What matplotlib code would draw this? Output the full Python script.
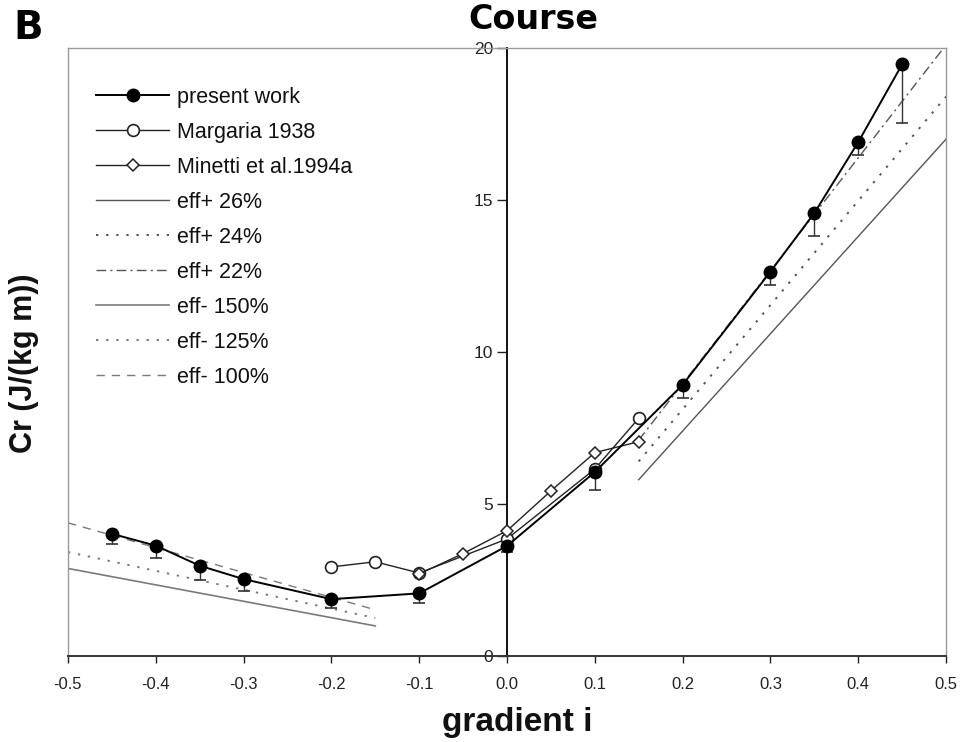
import numpy as np
import matplotlib
matplotlib.use('Agg')
import matplotlib.pyplot as plt

plt.rcParams['font.family'] = ['Liberation Sans', 'DejaVu Sans']
plt.rcParams['axes.unicode_minus'] = False

# ---- data ----
present_x = [-0.45, -0.40, -0.35, -0.30, -0.20, -0.10, 0.00, 0.10, 0.20, 0.30, 0.35, 0.40, 0.45]
present_y = [4.02, 3.63, 2.97, 2.53, 1.87, 2.06, 3.62, 6.05, 8.92, 12.64, 14.57, 16.90, 19.46]
present_err = [0.32, 0.40, 0.47, 0.38, 0.30, 0.33, 0.20, 0.60, 0.43, 0.44, 0.77, 0.42, 1.94]

margaria_x = [-0.20, -0.15, -0.10, 0.00, 0.10, 0.15]
margaria_y = [2.93, 3.10, 2.73, 3.85, 6.15, 7.82]

minetti_x = [-0.10, -0.05, 0.00, 0.05, 0.10, 0.15]
minetti_y = [2.70, 3.37, 4.12, 5.43, 6.69, 7.05]

uphill_x = [0.15, 0.50]
eff_p26 = [5.80, 17.00]
eff_p24 = [6.40, 18.40]
eff_p22 = [7.10, 20.10]

downhill_x = [-0.50, -0.15]
eff_m150 = [2.88, 0.99]
eff_m125 = [3.42, 1.25]
eff_m100 = [4.38, 1.52]

xticks = [-0.5, -0.4, -0.3, -0.2, -0.1, 0.0, 0.1, 0.2, 0.3, 0.4, 0.5]
yticks = [0, 5, 10, 15, 20]

# ---- figure ----
fig = plt.figure(figsize=(9.6, 7.42), dpi=100)
ax = fig.add_axes([68/960, 1 - 656/742, 878/960, 608/742])
ax.set_xlim(-0.5, 0.5)
ax.set_ylim(0, 20)

grey = '#7a7a7a'
h_p26, = ax.plot(uphill_x, eff_p26, color='#555555', lw=1.0, ls='-', label='eff+ 26%', zorder=2)
h_p24, = ax.plot(uphill_x, eff_p24, color='#555555', lw=1.4, ls=(0, (1.2, 4)), label='eff+ 24%', zorder=2)
h_p22, = ax.plot(uphill_x, eff_p22, color='#555555', lw=1.0, ls=(0, (7, 3, 1.5, 3)), label='eff+ 22%', zorder=2)
h_m150, = ax.plot(downhill_x, eff_m150, color=grey, lw=1.2, ls='-', label='eff- 150%', zorder=2)
h_m125, = ax.plot(downhill_x, eff_m125, color=grey, lw=1.4, ls=(0, (1.2, 4)), label='eff- 125%', zorder=2)
h_m100, = ax.plot(downhill_x, eff_m100, color=grey, lw=1.0, ls=(0, (6, 5)), label='eff- 100%', zorder=2)

# error bars (downward only)
lows = [y - e for y, e in zip(present_y, present_err)]
ax.vlines(present_x, lows, present_y, color='#333333', lw=1.0, zorder=3)
ax.plot(present_x, lows, ls='none', marker='_', ms=9, mew=1.2, color='#333333', zorder=3)

h_mar, = ax.plot(margaria_x, margaria_y, color='#222222', lw=1.0, marker='o', ms=8.5,
                 mfc='white', mec='#222222', mew=1.2, label='Margaria 1938', zorder=4)
h_min, = ax.plot(minetti_x, minetti_y, color='#222222', lw=1.0, marker='D', ms=6.0,
                 mfc='white', mec='#222222', mew=1.1, label='Minetti et al.1994a', zorder=4)
h_pre, = ax.plot(present_x, present_y, color='black', lw=1.4, marker='o', ms=9,
                 mfc='black', mec='black', label='present work', zorder=5)

# ---- axes styling ----
ax.spines['left'].set_position(('data', 0))
ax.spines['left'].set_color('#111111')
ax.spines['left'].set_linewidth(1.4)
ax.spines['bottom'].set_color('#333333')
ax.spines['bottom'].set_linewidth(1.4)
for s in ('top', 'right'):
    ax.spines[s].set_color('#999999')
    ax.spines[s].set_linewidth(1.0)
ax.plot([0, 0], [0, 1], transform=ax.transAxes, color='#999999', lw=1.0, clip_on=False)

ax.set_xticks(xticks)
ax.set_xticklabels(['%.1f' % v for v in xticks])
ax.set_yticks(yticks)
ax.tick_params(axis='x', direction='out', length=5, width=1.0, pad=10, labelsize=12, colors='#222222')
ax.tick_params(axis='y', direction='out', length=7, width=1.0, pad=3, labelsize=12.5, colors='#222222')

leg = ax.legend(handles=[h_pre, h_mar, h_min, h_p26, h_p24, h_p22, h_m150, h_m125, h_m100],
                loc='upper left', bbox_to_anchor=((96 - 68) / 878, (656 - 87) / 608),
                frameon=False, fontsize=15.5, handlelength=3.4, handletextpad=0.35,
                labelspacing=0.65, borderpad=0, borderaxespad=0)
for t in leg.get_texts():
    t.set_color('#111111')

fig.text(517/960, 1 - 722/742, 'gradient i', ha='center', va='center',
         fontsize=24, fontweight='bold', color='#111111')
fig.text(24/960, 1 - 363/742, 'Cr (J/(kg m))', ha='center', va='center', rotation=90,
         fontsize=22, fontweight='bold', color='#111111')
fig.text(533/960, 1 - 29/742, 'Course', ha='center', va='baseline',
         fontsize=24, fontweight='bold', family='DejaVu Sans', color='black')
fig.text(28/960, 1 - 28/742, 'B', ha='center', va='center',
         fontsize=28, fontweight='bold', family='DejaVu Sans', color='black')

fig.savefig('out.png', dpi=100)
